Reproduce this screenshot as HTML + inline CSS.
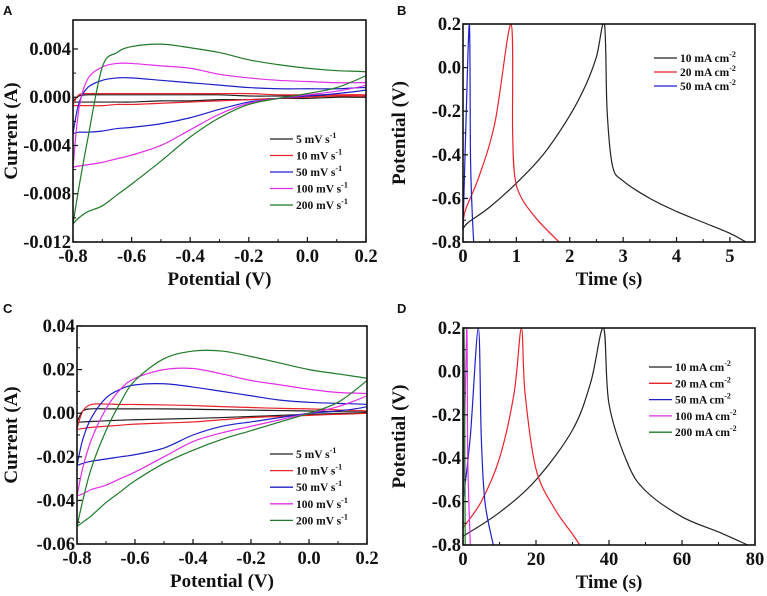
<!DOCTYPE html>
<html><head><meta charset="utf-8"><style>
html,body{margin:0;padding:0;background:#fff;}
svg{display:block;}
.tk{font-family:"Liberation Serif",serif;font-weight:bold;font-size:18.5px;fill:#111;}
.ti{font-family:"Liberation Serif",serif;font-weight:bold;font-size:19px;fill:#111;}
.lg{font-family:"Liberation Serif",serif;font-weight:bold;font-size:11.5px;fill:#111;}
.pl{font-family:"Liberation Sans",sans-serif;font-weight:bold;font-size:13px;fill:#111;}
</style></head><body>
<svg id="fig" width="767" height="596" viewBox="0 0 767 596" xmlns="http://www.w3.org/2000/svg"></svg>
<script>
// ---- shared potential grid for CV panels ----
const potentials = [-0.8,-0.78,-0.75,-0.7,-0.65,-0.6,-0.5,-0.4,-0.3,-0.2,-0.1,0,0.1,0.2];
// Panel A CV (upper = anodic branch, lower = cathodic branch, ascending potential)
const cvALabels = ["5 mV s","10 mV s","50 mV s","100 mV s","200 mV s"];
const cvA5up  = [-0.0003,0.0001,0.0002,0.0002,0.0002,0.0002,0.0002,0.0002,0.0002,0.0001,0.0001,0.0001,0.0001,0.0001];
const cvA5lo  = [-0.0004,-0.0004,-0.0004,-0.0004,-0.0004,-0.0004,-0.0003,-0.0003,-0.0002,-0.0002,-0.0001,-0.0001,0,0];
const cvA10up = [-0.0006,0.0002,0.0003,0.0003,0.0003,0.0003,0.0003,0.0003,0.0003,0.0003,0.0002,0.0002,0.0002,0.0002];
const cvA10lo = [-0.0007,-0.0007,-0.0007,-0.0007,-0.0006,-0.0006,-0.0005,-0.0004,-0.0003,-0.0002,-0.0001,0,0.0001,0.0001];
const cvA50up = [-0.003,-0.0005,0.0008,0.0014,0.0016,0.0016,0.0014,0.0012,0.001,0.0008,0.0007,0.0007,0.0007,0.0008];
const cvA50lo = [-0.003,-0.0029,-0.0029,-0.0028,-0.0026,-0.0025,-0.0022,-0.0017,-0.001,-0.0004,-0.0001,0.0001,0.0003,0.0006];
const cvA100up= [-0.0058,-0.001,0.0015,0.0025,0.0028,0.0028,0.0026,0.0024,0.0019,0.0016,0.0014,0.0013,0.0012,0.0012];
const cvA100lo= [-0.0058,-0.0057,-0.0056,-0.0054,-0.0051,-0.0048,-0.0040,-0.0027,-0.0014,-0.0005,-0.0001,0.0002,0.0005,0.0010];
const cvA200up= [-0.0105,-0.0075,-0.0035,0.0025,0.0037,0.0042,0.0044,0.0041,0.0037,0.0031,0.0027,0.0024,0.0022,0.0021];
const cvA200lo= [-0.0105,-0.0100,-0.0095,-0.0090,-0.0081,-0.0072,-0.0053,-0.0033,-0.0017,-0.0006,-0.0001,0.0003,0.0008,0.0018];
const cvAYTicks = [-0.012,-0.008,-0.004,0.000,0.004];
const cvAYLabels = ["-0.012","-0.008","-0.004","0.000","0.004"];
// Panel C CV
const cvC5up  = [-0.004,0.001,0.002,0.002,0.002,0.002,0.002,0.0018,0.0016,0.0014,0.0012,0.001,0.0007,0.0005];
const cvC5lo  = [-0.0042,-0.004,-0.0038,-0.0035,-0.0032,-0.003,-0.0027,-0.0024,-0.002,-0.0015,-0.001,-0.0005,-0.0002,0];
const cvC10up = [-0.007,0.001,0.004,0.0042,0.004,0.004,0.0038,0.0035,0.003,0.0026,0.0022,0.002,0.0015,0.001];
const cvC10lo = [-0.0075,-0.007,-0.0065,-0.006,-0.0055,-0.005,-0.0045,-0.004,-0.003,-0.002,-0.0015,-0.001,-0.0005,0];
const cvC50up = [-0.024,-0.012,-0.002,0.007,0.011,0.013,0.0135,0.012,0.01,0.008,0.006,0.005,0.0045,0.004];
const cvC50lo = [-0.024,-0.023,-0.022,-0.021,-0.020,-0.019,-0.016,-0.010,-0.006,-0.004,-0.002,0,0.001,0.003];
const cvC100up= [-0.038,-0.025,-0.012,0.002,0.011,0.016,0.020,0.0205,0.018,0.015,0.013,0.011,0.0095,0.009];
const cvC100lo= [-0.038,-0.037,-0.035,-0.033,-0.030,-0.027,-0.020,-0.013,-0.009,-0.006,-0.003,0,0.003,0.008];
const cvC200up= [-0.052,-0.04,-0.025,-0.008,0.005,0.015,0.025,0.0285,0.0285,0.026,0.023,0.02,0.018,0.016];
const cvC200lo= [-0.052,-0.050,-0.047,-0.041,-0.036,-0.031,-0.023,-0.017,-0.012,-0.008,-0.004,0.0,0.005,0.015];
const cvCYTicks = [-0.06,-0.04,-0.02,0.00,0.02,0.04];
const cvCYLabels = ["-0.06","-0.04","-0.02","0.00","0.02","0.04"];
const cvXTicks = [-0.8,-0.6,-0.4,-0.2,0.0,0.2];
const cvXLabels = ["-0.8","-0.6","-0.4","-0.2","0.0","0.2"];
// Panel B GCD
const gcdB10t = [0,0.1,0.5,1.0,1.5,2.0,2.3,2.5,2.65,2.7,2.8,3.0,3.5,4.0,4.5,5.0,5.3];
const gcdB10v = [-0.74,-0.71,-0.64,-0.53,-0.4,-0.22,-0.08,0.05,0.2,-0.2,-0.45,-0.52,-0.6,-0.66,-0.71,-0.76,-0.8];
const gcdB20t = [0,0.05,0.3,0.6,0.9,0.93,0.97,1.1,1.4,1.8];
const gcdB20v = [-0.72,-0.65,-0.5,-0.25,0.2,-0.3,-0.5,-0.6,-0.7,-0.8];
const gcdB50t = [0,0.05,0.12,0.14,0.17,0.2];
const gcdB50v = [-0.75,-0.3,0.2,-0.4,-0.65,-0.8];
const gcdBXTicks = [0,1,2,3,4,5];
// Panel D GCD
const gcdD10t = [0,10,20,30,35,38.5,40,45,50,60,70,78];
const gcdD10v = [-0.76,-0.65,-0.5,-0.27,-0.05,0.2,-0.15,-0.42,-0.55,-0.67,-0.74,-0.8];
const gcdD20t = [0,5,10,14,16,17,20,25,30,32];
const gcdD20v = [-0.72,-0.6,-0.4,-0.1,0.2,-0.1,-0.45,-0.63,-0.75,-0.8];
const gcdD50t = [0,2,4.2,5,6,8.3];
const gcdD50v = [-0.6,-0.3,0.2,-0.3,-0.6,-0.8];
const gcdD100t = [0,1,1.3,2];
const gcdD100v = [-0.7,0.2,-0.4,-0.8];
const gcdD200t = [0,0.3,0.6];
const gcdD200v = [-0.8,0.2,-0.8];
const gcdDXTicks = [0,20,40,60,80];
const gcdYTicks = [-0.8,-0.6,-0.4,-0.2,0.0,0.2];
const gcdYLabels = ["-0.8","-0.6","-0.4","-0.2","0.0","0.2"];

const colors = ["#222222","#e8232a","#1f1fc8","#e22ee8","#1f7a28"];
const NS="http://www.w3.org/2000/svg";
const fig=document.getElementById('fig');
function mk(tag,attrs,parent){const e=document.createElementNS(NS,tag);for(const k in attrs)e.setAttribute(k,attrs[k]);(parent||fig).appendChild(e);return e;}
function scale(d0,d1,r0,r1){return v=>r0+(v-d0)/(d1-d0)*(r1-r0);}
function smoothPath(P){
  let d='M'+P[0][0].toFixed(2)+','+P[0][1].toFixed(2);
  for(let i=0;i<P.length-1;i++){
    const p0=P[Math.max(0,i-1)],p1=P[i],p2=P[i+1],p3=P[Math.min(P.length-1,i+2)];
    const t=1/6;
    const c1=[p1[0]+(p2[0]-p0[0])*t,p1[1]+(p2[1]-p0[1])*t];
    const c2=[p2[0]-(p3[0]-p1[0])*t,p2[1]-(p3[1]-p1[1])*t];
    d+=' C'+c1[0].toFixed(2)+','+c1[1].toFixed(2)+' '+c2[0].toFixed(2)+','+c2[1].toFixed(2)+' '+p2[0].toFixed(2)+','+p2[1].toFixed(2);
  }
  return d;
}

function panel(cfg){
  const g=mk('g',{});
  
  
  const sx=scale(cfg.xd[0],cfg.xd[1],cfg.L,cfg.R), sy=scale(cfg.yd[0],cfg.yd[1],cfg.B,cfg.T);
  const lt=mk('text',{x:cfg.letterX,y:cfg.letterY,class:'pl'},g);lt.textContent=cfg.letter;
  
  
  const clip='clip'+cfg.letter;
  const cp=mk('clipPath',{id:clip},g);mk('rect',{x:cfg.L,y:cfg.T,width:cfg.R-cfg.L,height:cfg.B-cfg.T},cp);
  const sg=mk('g',{'clip-path':'url(#'+clip+')'},g);
  cfg.series.forEach((s,i)=>{
    const P=s.xs.map((x,j)=>[sx(x),sy(s.ys[j])]);
    const p=mk('path',{d:smoothPath(P),fill:'none',stroke:colors[s.c],'stroke-width':1.2,'stroke-linejoin':'round'},sg);
    
    
  });
  const fr=mk('rect',{x:cfg.L,y:cfg.T,width:cfg.R-cfg.L,height:cfg.B-cfg.T,fill:'none',stroke:'#111','stroke-width':1.6},g);
  
  
  const xa=mk('g',{},g);
  
  
  cfg.xt.forEach((v,i)=>{
    const x=sx(v);mk('line',{x1:x,x2:x,y1:cfg.B,y2:cfg.B-5,stroke:'#111','stroke-width':1.2},xa);
    if(i<cfg.xt.length-1){const xm=sx((v+cfg.xt[i+1])/2);mk('line',{x1:xm,x2:xm,y1:cfg.B,y2:cfg.B-3,stroke:'#111','stroke-width':1},xa);}
    const t=mk('text',{x:x,y:cfg.B+20,'text-anchor':'middle',class:'tk'},xa);t.textContent=cfg.xl[i];
    
    
  });
  const ya=mk('g',{},g);
  
  
  cfg.yt.forEach((v,i)=>{
    const y=sy(v);mk('line',{x1:cfg.L,x2:cfg.L+5,y1:y,y2:y,stroke:'#111','stroke-width':1.2},ya);
    if(i<cfg.yt.length-1){const ym=sy((v+cfg.yt[i+1])/2);mk('line',{x1:cfg.L,x2:cfg.L+3,y1:ym,y2:ym,stroke:'#111','stroke-width':1},ya);}
    const t=mk('text',{x:cfg.L-2,y:y+6,'text-anchor':'end',class:'tk'},ya);t.textContent=cfg.yl[i];
    
    
  });
  const xt=mk('text',{x:(cfg.L+cfg.R)/2,y:cfg.B+43,'text-anchor':'middle',class:'ti'},g);xt.textContent=cfg.xTitle;
  
  
  const yx=cfg.yTitleX, yy=(cfg.T+cfg.B)/2;
  const yt=mk('text',{x:yx,y:yy,'text-anchor':'middle',class:'ti',transform:'rotate(-90 '+yx+' '+yy+')'},g);yt.textContent=cfg.yTitle;
  
  
  const lg=mk('g',{},g);
  
  
  cfg.legend.forEach((lab,i)=>{
    const y=cfg.lgY+i*cfg.lgDy;
    const e=mk('g',{},lg);
    
    
    mk('line',{x1:cfg.lgX,x2:cfg.lgX+23,y1:y,y2:y,stroke:colors[cfg.lgC[i]],'stroke-width':1.3},e);
    const t=mk('text',{x:cfg.lgX+26,y:y+4,class:'lg'},e);t.textContent=lab;
    const s=mk('tspan',{dy:-5,'font-size':'8px'},t);s.textContent=cfg.sup;
  });
}
function cvSeries(ids,ups,los){
  return ids.map((id,i)=>({id:id,c:i,xs:potentials.concat(potentials.slice().reverse()),ys:ups[i].concat(los[i].slice().reverse())}));
}
panel({name:'panel-a',letter:'A',letterX:3,letterY:15,L:73,R:366,T:20,B:242,xd:[-0.8,0.2],yd:[-0.012,0.0064],
  xt:cvXTicks,xl:cvXLabels,yt:cvAYTicks,yl:cvAYLabels,xTitle:'Potential (V)',yTitle:'Current (A)',yTitleX:17,
  series:cvSeries(['5mv','10mv','50mv','100mv','200mv'],[cvA5up,cvA10up,cvA50up,cvA100up,cvA200up],[cvA5lo,cvA10lo,cvA50lo,cvA100lo,cvA200lo]),
  legend:cvALabels,lgC:[0,1,2,3,4],lgX:270,lgY:139,lgDy:16.5,sup:'-1'});
panel({name:'panel-b',letter:'B',letterX:397,letterY:15,L:463,R:755,T:24,B:242,xd:[0,5.47],yd:[-0.8,0.2],
  xt:gcdBXTicks,xl:gcdBXTicks.map(String),yt:gcdYTicks,yl:gcdYLabels,xTitle:'Time (s)',yTitle:'Potential (V)',yTitleX:405,
  series:[{id:'10ma',c:0,xs:gcdB10t,ys:gcdB10v},{id:'20ma',c:1,xs:gcdB20t,ys:gcdB20v},{id:'50ma',c:2,xs:gcdB50t,ys:gcdB50v}],
  legend:["10 mA cm","20 mA cm","50 mA cm"],lgC:[0,1,2],lgX:654,lgY:58,lgDy:14,sup:'-2'});
panel({name:'panel-c',letter:'C',letterX:3,letterY:313,L:77,R:367,T:326,B:544,xd:[-0.8,0.2],yd:[-0.06,0.04],
  xt:cvXTicks,xl:cvXLabels,yt:cvCYTicks,yl:cvCYLabels,xTitle:'Potential (V)',yTitle:'Current (A)',yTitleX:17,
  series:cvSeries(['5mv','10mv','50mv','100mv','200mv'],[cvC5up,cvC10up,cvC50up,cvC100up,cvC200up],[cvC5lo,cvC10lo,cvC50lo,cvC100lo,cvC200lo]),
  legend:cvALabels,lgC:[0,1,2,3,4],lgX:270,lgY:454,lgDy:16.6,sup:'-1'});
panel({name:'panel-d',letter:'D',letterX:397,letterY:313,L:463,R:755,T:328,B:545,xd:[0,80],yd:[-0.8,0.2],
  xt:gcdDXTicks,xl:gcdDXTicks.map(String),yt:gcdYTicks,yl:gcdYLabels,xTitle:'Time (s)',yTitle:'Potential (V)',yTitleX:405,
  series:[{id:'10ma',c:0,xs:gcdD10t,ys:gcdD10v},{id:'20ma',c:1,xs:gcdD20t,ys:gcdD20v},{id:'50ma',c:2,xs:gcdD50t,ys:gcdD50v},{id:'100ma',c:3,xs:gcdD100t,ys:gcdD100v},{id:'200ma',c:4,xs:gcdD200t,ys:gcdD200v}],
  legend:["10 mA cm","20 mA cm","50 mA cm","100 mA cm","200 mA cm"],lgC:[0,1,2,3,4],lgX:649,lgY:367,lgDy:16.3,sup:'-2'});
</script>
</body></html>
